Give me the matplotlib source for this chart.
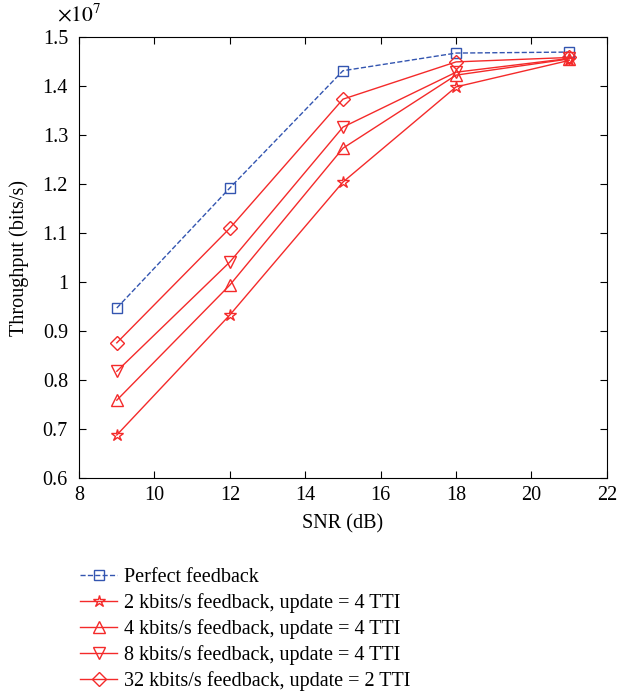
import matplotlib.pyplot as plt
from matplotlib.ticker import FuncFormatter
import numpy as np

plt.rcParams['font.family'] = ['Liberation Serif', 'DejaVu Serif']
plt.rcParams['mathtext.fontset'] = 'stix'

snr = [9, 12, 15, 18, 21]
perfect = [0.947, 1.192, 1.431, 1.467, 1.469]
kb2_u4 = [0.688, 0.933, 1.204, 1.398, 1.452]
kb4_u4 = [0.759, 0.994, 1.273, 1.422, 1.455]
kb8_u4 = [0.818, 1.041, 1.316, 1.428, 1.456]
kb32_u2 = [0.876, 1.110, 1.373, 1.449, 1.458]

labels = ["Perfect feedback",
          "2 kbits/s feedback, update = 4 TTI",
          "4 kbits/s feedback, update = 4 TTI",
          "8 kbits/s feedback, update = 4 TTI",
          "32 kbits/s feedback, update = 2 TTI"]

red = '#f42a2a'
blue = '#3355b0'
fs = 14.5

fig = plt.figure(figsize=(6.18, 6.96), dpi=100)
ax = fig.add_axes([0.128, 0.313, 0.854, 0.634])

scale = 1e7
ax.plot(snr, np.array(perfect) * scale, '--s', color=blue, mfc='none', ms=7, lw=1, label=labels[0])
ax.plot(snr, np.array(kb2_u4) * scale, '-*', color=red, mfc='none', ms=9, lw=1, label=labels[1])
ax.plot(snr, np.array(kb4_u4) * scale, '-^', color=red, mfc='none', ms=9, lw=1, label=labels[2])
ax.plot(snr, np.array(kb8_u4) * scale, '-v', color=red, mfc='none', ms=9, lw=1, label=labels[3])
ax.plot(snr, np.array(kb32_u2) * scale, '-D', color=red, mfc='none', ms=7, lw=1, label=labels[4])

ax.set_xlim(8, 22)
ax.set_ylim(0.6e7, 1.5e7)
ax.set_xticks(np.arange(8, 23, 2))
ax.set_yticks(np.arange(0.6, 1.51, 0.1) * scale)
ax.yaxis.set_major_formatter(FuncFormatter(lambda v, p: f"{v / scale:g}"))
ax.tick_params(direction='in', top=True, right=True, labelsize=fs, length=5)
ax.tick_params(axis='y', pad=8)
ax.tick_params(axis='x', pad=6)
ax.text(-0.0, 1.025, r"$\times10^7$", transform=ax.transAxes, fontsize=fs + 1, ha='center', va='bottom')

ax.set_xlabel("SNR (dB)", fontsize=fs, labelpad=6)
ax.set_ylabel("Throughput (bits/s)", fontsize=fs, labelpad=10)

fig.legend(loc='upper left', bbox_to_anchor=(0.113, 0.198), frameon=False, fontsize=fs,
           handlelength=1.85, handletextpad=0.35, labelspacing=0.3, borderpad=0)

fig.savefig("out.png", dpi=100)
